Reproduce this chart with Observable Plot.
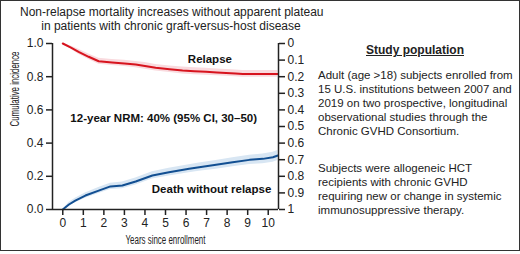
<!DOCTYPE html>
<html>
<head>
<meta charset="utf-8">
<script src="https://cdn.jsdelivr.net/npm/d3@7"></script>
<script src="https://cdn.jsdelivr.net/npm/@observablehq/plot@0.6"></script>
<style>
  html, body { margin: 0; padding: 0; background: #fff; }
  #wrap { position: relative; width: 520px; height: 254px; overflow: hidden; font-family: "Liberation Sans", Arial, sans-serif; color: #222; }
  #frame { position: absolute; left: 0; top: 0; width: 520px; height: 251px; box-sizing: border-box; border: 1.5px solid #333; pointer-events: none; }
  #title { position: absolute; left: 20px; width: 302px; top: 5px; text-align: center; font-size: 12px; line-height: 14px; white-space: nowrap; }
  #chart { position: absolute; left: 0; top: 0; }
  #heading { position: absolute; left: 318px; width: 194px; top: 43px; text-align: center; font-size: 12px; line-height: 14px; font-weight: bold; text-decoration: underline; white-space: nowrap; }
  .para { position: absolute; left: 318px; font-size: 11.5px; line-height: 14px; white-space: nowrap; }
</style>
</head>
<body>
<div id="wrap">
  <div id="title"></div>
  <div id="chart"></div>
  <div id="heading"></div>
  <div class="para" id="p1" style="top:68px"></div>
  <div class="para" id="p2" style="top:161px"></div>
  <div id="frame"></div>
</div>
<script>
// ---- Text ----
const titleLines = ["Non-relapse mortality increases without apparent plateau", "in patients with chronic graft-versus-host disease"];
const headingText = "Study population";
const para1Lines = ["Adult (age >18) subjects enrolled from", "15 U.S. institutions between 2007 and", "2019 on two prospective, longitudinal", "observational studies through the", "Chronic GVHD Consortium."];
const para2Lines = ["Subjects were allogeneic HCT", "recipients with chronic GVHD", "requiring new or change in systemic", "immunosuppressive therapy."];
const xTitle = "Years since enrollment";
const yTitle = "Cumulative incidence";
const relapseLabel = "Relapse";
const nrmLabel = "12-year NRM: 40% (95% CI, 30\u201350)";
const deathLabel = "Death without relapse";

// ---- Ticks ----
const xTicks = [0, 1, 2, 3, 4, 5, 6, 7, 8, 9, 10];
const leftTicks = [0, 0.2, 0.4, 0.6, 0.8, 1.0];
const rightTicks = [0, 0.1, 0.2, 0.3, 0.4, 0.5, 0.6, 0.7, 0.8, 0.9, 1];

// ---- Relapse cumulative incidence (read on right, reversed axis) ----
const relapseYears = [0, 0.4, 0.77, 1.26, 1.75, 2.4, 3.0, 3.55, 4.0, 4.52, 5.2, 5.83, 6.4, 6.97, 7.5, 7.95, 8.4, 8.76, 9.5, 10.47];
const relapseInc   = [0, 0.025, 0.05, 0.08, 0.107, 0.114, 0.12, 0.127, 0.135, 0.146, 0.155, 0.163, 0.167, 0.17, 0.174, 0.177, 0.18, 0.183, 0.183, 0.183];
const relapseLo    = [0, 0.015, 0.035, 0.063, 0.089, 0.096, 0.101, 0.108, 0.115, 0.126, 0.135, 0.142, 0.146, 0.149, 0.153, 0.156, 0.159, 0.162, 0.162, 0.162];
const relapseHi    = [0, 0.035, 0.065, 0.097, 0.125, 0.132, 0.139, 0.146, 0.155, 0.166, 0.175, 0.184, 0.188, 0.191, 0.195, 0.198, 0.201, 0.204, 0.204, 0.204];

// ---- Non-relapse mortality cumulative incidence (left axis) ----
const nrmYears = [0, 0.3, 0.61, 1.1, 1.75, 2.32, 2.9, 3.55, 4.36, 5.17, 6.15, 6.64, 7.46, 8.27, 9.09, 9.74, 10.23, 10.47];
const nrmInc   = [0, 0.03, 0.054, 0.084, 0.114, 0.139, 0.145, 0.169, 0.205, 0.225, 0.245, 0.255, 0.269, 0.285, 0.299, 0.305, 0.315, 0.325];
const nrmLo    = [0, 0.018, 0.04, 0.068, 0.096, 0.12, 0.125, 0.148, 0.183, 0.202, 0.221, 0.23, 0.243, 0.258, 0.271, 0.276, 0.285, 0.295];
const nrmHi    = [0, 0.042, 0.068, 0.1, 0.132, 0.158, 0.165, 0.19, 0.227, 0.248, 0.269, 0.28, 0.295, 0.312, 0.327, 0.334, 0.345, 0.355];

// ---- Annotation anchors (data coordinates) ----
const relapseLabelAt = {x: 7.16, y: 0.904};
const nrmLabelAt = {x: 0.37, y: 0.548};
const deathLabelAt = {x: 10.15, y: 0.12};

const relapse = relapseYears.map((t, i) => ({t, v: relapseInc[i], lo: relapseLo[i], hi: relapseHi[i]}));
const nrm = nrmYears.map((t, i) => ({t, v: nrmInc[i], lo: nrmLo[i], hi: nrmHi[i]}));

document.getElementById("title").innerHTML = titleLines.join("<br>");
document.getElementById("heading").textContent = headingText;
document.getElementById("p1").innerHTML = para1Lines.join("<br>");
document.getElementById("p2").innerHTML = para2Lines.join("<br>");

const fmtRight = d => d3.format("~g")(+(1 - d).toFixed(1));

const chart = Plot.plot({
  width: 310,
  height: 254,
  marginLeft: 52,
  marginRight: 32,
  marginTop: 43,
  marginBottom: 45,
  x: {domain: [-0.5, 10.5]},
  y: {domain: [0, 1]},
  style: {fontFamily: "'Liberation Sans', Arial, sans-serif", fontSize: "12px", color: "#222", background: "transparent"},
  marks: [
    Plot.areaY(relapse, {x: "t", y1: d => 1 - d.lo, y2: d => 1 - d.hi, fill: "#f9dade"}),
    Plot.areaY(nrm, {x: "t", y1: "lo", y2: "hi", fill: "#d8e6f3"}),
    Plot.line(relapse, {x: "t", y: d => 1 - d.v, stroke: "#d7141e", strokeWidth: 2}),
    Plot.line(nrm, {x: "t", y: "v", stroke: "#124f92", strokeWidth: 2}),
    Plot.ruleX([-0.5, 10.5], {y1: 0, y2: 1, stroke: "#222", strokeWidth: 1.5}),
    Plot.ruleY([0], {x1: -0.5, x2: 10.5, stroke: "#222", strokeWidth: 1.5}),
    Plot.axisX(xTicks, {tickSize: 6, tickPadding: 3, tickFormat: d => String(d), label: null, strokeWidth: 1.5}),
    Plot.axisY(leftTicks, {anchor: "left", tickSize: 6, tickPadding: 3, tickFormat: d3.format(".1f"), label: null, strokeWidth: 1.5}),
    Plot.axisY(rightTicks.map(r => 1 - r), {anchor: "right", tickSize: 6, tickPadding: 3, tickFormat: fmtRight, label: null, strokeWidth: 1.5}),
    Plot.text([xTitle], {frameAnchor: "bottom", dy: 34, text: d => d, fontFamily: "'Liberation Sans Narrow', 'Liberation Sans', sans-serif", fontSize: 12, fill: "#222"}),
    Plot.text([yTitle], {frameAnchor: "left", dx: -37, rotate: -90, text: d => d, fontFamily: "'Liberation Sans Narrow', 'Liberation Sans', sans-serif", fontSize: 12, fill: "#222"}),
    Plot.text([relapseLabel], {x: relapseLabelAt.x, y: relapseLabelAt.y, text: d => d, fontWeight: "bold", fontSize: 11.5, fill: "#111"}),
    Plot.text([nrmLabel], {x: nrmLabelAt.x, y: nrmLabelAt.y, text: d => d, textAnchor: "start", fontWeight: "bold", fontSize: 11.5, fill: "#111"}),
    Plot.text([deathLabel], {x: deathLabelAt.x, y: deathLabelAt.y, text: d => d, textAnchor: "end", fontWeight: "bold", fontSize: 11.5, fill: "#111"})
  ]
});

// condense the axis titles like the reference's narrow face
d3.select(chart).selectAll("text").filter(function() { return this.textContent === xTitle; })
  .attr("textLength", 80).attr("lengthAdjust", "spacingAndGlyphs");
d3.select(chart).selectAll("text").filter(function() { return this.textContent === yTitle; })
  .attr("textLength", 75).attr("lengthAdjust", "spacingAndGlyphs");

document.getElementById("chart").appendChild(chart);
</script>
</body>
</html>
